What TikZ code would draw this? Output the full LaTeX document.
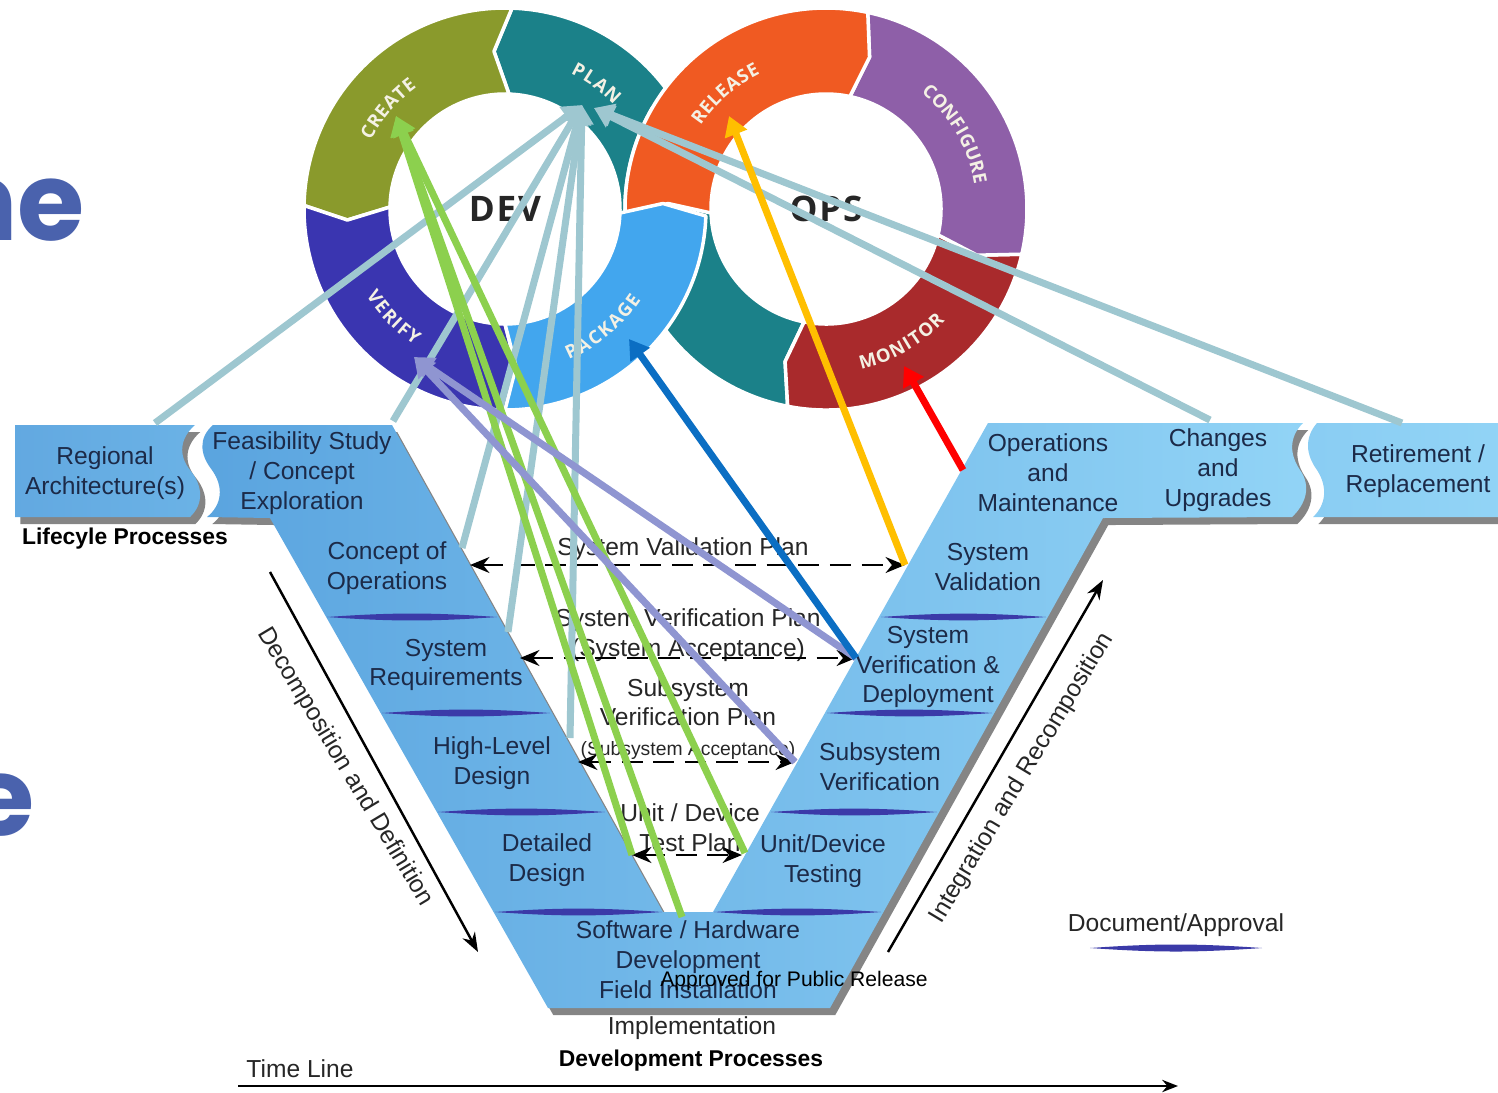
\documentclass[tikz,border=0pt]{standalone}
\usepackage{fontspec}
\setmainfont{Liberation Sans}
\newfontfamily\ringfont{Open Sans}
\newfontfamily\slidefont{Poppins}
\usetikzlibrary{arrows.meta,shadows}

\definecolor{createcol}{HTML}{8A9A2C}
\definecolor{plancol}{HTML}{1B8189}
\definecolor{verifycol}{HTML}{3A35B0}
\definecolor{packagecol}{HTML}{42A6EE}
\definecolor{releasecol}{HTML}{F05A22}
\definecolor{configcol}{HTML}{8E5FA8}
\definecolor{monitorcol}{HTML}{A92A2C}
\definecolor{ringwhite}{HTML}{F4F1E4}
\definecolor{vdark}{HTML}{5AA4DF}
\definecolor{vlight}{HTML}{92D4F6}
\definecolor{docblue}{HTML}{3B3AA8}
\definecolor{vnavy}{HTML}{1C2A48}
\definecolor{slideblue}{HTML}{4A62AD}
\definecolor{grayline}{HTML}{9EC7D0}
\definecolor{greenline}{HTML}{8CD04E}
\definecolor{lavline}{HTML}{8F95D1}
\definecolor{blueline}{HTML}{0B6EC3}
\definecolor{yellowline}{HTML}{FFBF00}
\definecolor{redline}{HTML}{FF0000}

\begin{document}
\begin{tikzpicture}[x=0.2mm, y=0.2mm,
    ringpiece/.style={draw=white, line width=2pt, line join=round},
    ringtxt/.style={text=ringwhite, inner sep=0pt, font=\ringfont\bfseries\fontsize{10.5}{10.5}\selectfont},
    hub/.style={text=black!85, font=\ringfont\bfseries\fontsize{20}{20}\selectfont},
    vblock/.style={drop shadow={shadow xshift=3pt, shadow yshift=-4pt, opacity=0.6, fill=black!80}},
    vtxt/.style={text=vnavy, align=center, font=\fontsize{14}{17}\selectfont},
    plantxt/.style={text=black!85, align=center, font=\fontsize{14}{17}\selectfont},
    docline/.style={fill=docblue},
    planarrow/.style={line width=1.6pt, dash pattern=on 12pt off 6pt, {Stealth[length=11pt,width=9pt]}-{Stealth[length=11pt,width=9pt]}},
    flowarrow/.style={line width=1.4pt, -{Stealth[length=11pt,width=8pt]}},
    trace/.style={line width=4pt, -{Triangle[length=11pt,width=13pt]}}
  ]
    \useasboundingbox (0,0) rectangle (1498,-1092);

    % Slide title letters cut off at the left
    \node[font=\slidefont\bfseries\fontsize{62}{62}\selectfont, text=slideblue, anchor=base east, inner sep=0pt] (ne) at (85,-240) {ne};
    \node[font=\slidefont\bfseries\fontsize{62}{62}\selectfont, text=slideblue, anchor=base east, inner sep=0pt] (e) at (35,-835) {e};

    % DEV ring, first part
    \begin{scope}[shift={(505,-209)}]
        \filldraw[ringpiece, fill=plancol] (94:158) -- (88:201) arc[start angle=88, end angle=-40, radius=201] -- (-40:115) arc[start angle=-40, end angle=88, radius=115] -- cycle;
    \end{scope}

    % OPS ring
    \begin{scope}[shift={(826,-209)}]
        \filldraw[ringpiece, fill=plancol] (259:201) arc[start angle=259, end angle=150, radius=201] -- (150:115) arc[start angle=150, end angle=259, radius=115] -- (255:158) -- cycle;
        \filldraw[ringpiece, fill=monitorcol] (-13:201) arc[start angle=-13, end angle=-101, radius=201] -- (-105:158) -- (-101:115) arc[start angle=-101, end angle=-13, radius=115] -- (-17:158) -- cycle;
        \filldraw[ringpiece, fill=configcol] (78:201) arc[start angle=78, end angle=-13, radius=201] -- (-17:158) -- (-13:115) arc[start angle=-13, end angle=78, radius=115] -- (74:158) -- cycle;
        \filldraw[ringpiece, fill=releasecol] (182:201) arc[start angle=182, end angle=78, radius=201] -- (74:158) -- (78:115) arc[start angle=78, end angle=182, radius=115] -- (178:158) -- cycle;

        % OPS labels
        \foreach \c/\a [count=\i] in {R/144,E/139.6,L/135.5,E/131.4,A/126.7,S/122.1,E/117.9}
            \node[ringtxt, rotate=\a-90] (rel\i) at (\a:157) {\c};
        \foreach \c/\a [count=\i] in {C/48.6,O/43.5,N/38.0,F/33.2,I/29.8,G/25.9,U/20.7,R/15.7,E/11.3}
            \node[ringtxt, rotate=\a-90] (cfg\i) at (\a:157) {\c};
        \foreach \c/\a [count=\i] in {M/285.4,O/291.4,N/296.9,I/301.0,T/304.6,O/309.5,R/314.5}
            \node[ringtxt, rotate=\a+90] (mon\i) at (\a:157) {\c};
        \node[hub] (ops) at (0,0) {O\kern1pt P\kern1pt S};
    \end{scope}

    % DEV ring, rest
    \begin{scope}[shift={(505,-209)}]
        \filldraw[ringpiece, fill=createcol] (88:201) arc[start angle=88, end angle=179, radius=201] -- (184:158) -- (179:115) arc[start angle=179, end angle=88, radius=115] -- (94:158) -- cycle;
        \filldraw[ringpiece, fill=verifycol] (179:201) arc[start angle=179, end angle=270, radius=201] -- (274:158) -- (270:115) arc[start angle=270, end angle=179, radius=115] -- (184:158) -- cycle;
        \filldraw[ringpiece, fill=packagecol] (270:201) arc[start angle=270, end angle=358, radius=201] -- (2:158) -- (358:115) arc[start angle=358, end angle=270, radius=115] -- (274:158) -- cycle;

        % DEV labels
        \foreach \c/\a [count=\i] in {C/150.7,R/146.0,E/141.6,A/136.9,T/132.2,E/127.9}
            \node[ringtxt, rotate=\a-90] (cre\i) at (\a:157) {\c};
        \foreach \c/\a [count=\i] in {P/62,L/57.2,A/52.2,N/46.6}
            \node[ringtxt, rotate=\a-90] (pla\i) at (\a:157) {\c};
        \foreach \c/\a [count=\i] in {V/214,E/218.5,R/223.0,I/226.6,F/230.1,Y/234.5}
            \node[ringtxt, rotate=\a+90] (ver\i) at (\a:157) {\c};
        \foreach \c/\a [count=\i] in {P/295,A/299.9,C/304.8,K/309.6,A/314.6,G/319.7,E/324.4}
            \node[ringtxt, rotate=\a+90] (pac\i) at (\a:157) {\c};
        \node[hub] (dev) at (0,0) {D\kern1pt E\kern1pt V};
    \end{scope}

    % Blocks of the V
    \path[vblock, left color=vdark!95, right color=vdark!70!vlight] (15,-425) -- (195,-425) .. controls (180,-438) and (178,-455) .. (190,-470) .. controls (204,-487) and (203,-505) .. (190,-517) -- (15,-517) -- cycle;
    \path[vblock, left color=vdark, right color=vlight] (213,-425) -- (392,-425) -- (663,-912) -- (713,-912) -- (988,-423) -- (1303,-423)
        .. controls (1288,-438) and (1290,-455) .. (1300,-470) .. controls (1312,-487) and (1305,-505) .. (1292,-517)
        -- (1103,-518) -- (830,-1008) -- (548,-1008) -- (270,-518) -- (207,-517)
        .. controls (222,-505) and (224,-487) .. (212,-470) .. controls (200,-455) and (198,-438) .. (213,-425) -- cycle;
    \path[vblock, left color=vlight!85!vdark, right color=vlight] (1317,-423) -- (1510,-423) -- (1510,-517) -- (1313,-517)
        .. controls (1326,-505) and (1328,-487) .. (1317,-470) .. controls (1306,-455) and (1304,-438) .. (1317,-423) -- cycle;

    % Document / approval stripes
    \fill[docline] (327,-617) to[bend left=4] (497,-617) to[bend left=4] (327,-617);
    \fill[docline] (382,-713) to[bend left=4] (550,-713) to[bend left=4] (382,-713);
    \fill[docline] (438,-812) to[bend left=4] (605,-812) to[bend left=4] (438,-812);
    \fill[docline] (495,-912) to[bend left=4] (662,-912) to[bend left=4] (495,-912);
    \fill[docline] (881,-617) to[bend left=4] (1046,-617) to[bend left=4] (881,-617);
    \fill[docline] (827,-713) to[bend left=4] (992,-713) to[bend left=4] (827,-713);
    \fill[docline] (771,-812) to[bend left=4] (937,-812) to[bend left=4] (771,-812);
    \fill[docline] (714,-912) to[bend left=4] (881,-912) to[bend left=4] (714,-912);
    \fill[docline] (1090,-948) to[bend left=4] (1262,-948) to[bend left=4] (1090,-948);

    % Phase texts
    \node[vtxt] (regional) at (105,-473) {Regional\\Architecture(s)};
    \node[vtxt] (feas) at (302,-473) {Feasibility Study\\/ Concept\\Exploration};
    \node[vtxt] (conops) at (387,-568) {Concept of\\Operations};
    \node[vtxt] (sysreq) at (446,-665) {System\\Requirements};
    \node[vtxt] (hld) at (492,-763) {High-Level\\Design};
    \node[vtxt] (dd) at (547,-860) {Detailed\\Design};
    \node[vtxt] (swhw) at (688,-960) {Software / Hardware\\Development\\Field Installation};
    \node[vtxt] (om) at (1048,-473) {Operations\\and\\Maintenance};
    \node[vtxt] (cu) at (1218,-470) {Changes\\and\\Upgrades};
    \node[vtxt] (rr) at (1418,-471) {Retirement /\\Replacement};
    \node[vtxt] (sysval) at (988,-567) {System\\Validation};
    \node[vtxt] (sysver) at (928,-667) {System\\Verification \&\\Deployment};
    \node[vtxt] (subver) at (880,-767) {Subsystem\\Verification};
    \node[vtxt] (unit) at (823,-861) {Unit/Device\\Testing};

    % Other labels
    \node[font=\bfseries\fontsize{13}{15}\selectfont] (lifecycle) at (125,-539) {Lifecyle Processes};
    \node[plantxt] (impl) at (692,-1028) {Implementation};
    \node[font=\bfseries\fontsize{13}{15}\selectfont] (devproc) at (691,-1061) {Development Processes};
    \node[plantxt] (timeline) at (300,-1069) {Time Line};
    \node[plantxt] (docapp) at (1176,-925) {Document/Approval};
    \node[plantxt, rotate=-59] (decomp) at (345,-767) {Decomposition and Definition};
    \node[plantxt, rotate=59] (integ) at (1022,-778) {Integration and Recomposition};

    % Plans between the arms
    \node[plantxt] (valplan) at (683,-549) {System Validation Plan};
    \node[plantxt] (verplan) at (688,-635) {System Verification Plan\\(System Acceptance)};
    \node[plantxt] (subplan) at (688,-719) {Subsystem\\Verification Plan\\{\fontsize{11}{13}\selectfont(Subsystem Acceptance)}};
    \node[plantxt] (unitplan) at (690,-828) {Unit / Device\\Test Plan};

    % End points on the arms
    \coordinate (valL) at (470,-565);
    \coordinate (valR) at (905,-565);
    \coordinate (verL) at (520,-658);
    \coordinate (verR) at (856,-658);
    \coordinate (subL) at (578,-762);
    \coordinate (subR) at (795,-762);
    \coordinate (unitL) at (632,-855);
    \coordinate (unitR) at (742,-855);

    \draw[planarrow] (valL) -- (valR);
    \draw[planarrow] (verL) -- (verR);
    \draw[planarrow] (subL) -- (subR);
    \draw[planarrow] (unitL) -- (unitR);

    % Side arrows and time line
    \coordinate (decA) at (270,-572);
    \coordinate (decB) at (478,-952);
    \coordinate (intA) at (888,-952);
    \coordinate (intB) at (1103,-580);
    \coordinate (tlA) at (238,-1086);
    \coordinate (tlB) at (1178,-1086);
    \draw[flowarrow] (decA) -- (decB);
    \draw[flowarrow] (intA) -- (intB);
    \draw[line width=1.2pt, -{Stealth[length=9pt,width=7pt]}] (tlA) -- (tlB);

    % Arrow tips in the rings
    \coordinate (plantip) at (582,-105);
    \coordinate (plantipR) at (594,-108);
    \coordinate (createtip) at (396,-116);
    \coordinate (verifytip) at (414,-357);
    \coordinate (packagetip) at (629,-339);
    \coordinate (releasetip) at (729,-116);
    \coordinate (monitortip) at (904,-366);

    % Start points on the V
    \coordinate (regtop) at (155,-423);
    \coordinate (feastop) at (393,-421);
    \coordinate (conopsR) at (462,-548);
    \coordinate (sysreqR) at (508,-632);
    \coordinate (hldR) at (570,-738);
    \coordinate (cutop) at (1210,-420);
    \coordinate (rrtop) at (1402,-423);
    \coordinate (swhwtop) at (682,-917);
    \coordinate (unitLt) at (745,-853);
    \coordinate (omL) at (963,-470);

    % Links from the V to the DevOps loop
    \draw[trace, grayline] (regtop) -- (plantip);
    \draw[trace, grayline] (feastop) -- (plantip);
    \draw[trace, grayline] (conopsR) -- (plantip);
    \draw[trace, grayline] (sysreqR) -- (plantip);
    \draw[trace, grayline] (hldR) -- (plantip);
    \draw[trace, grayline] (cutop) -- (plantipR);
    \draw[trace, grayline] (rrtop) -- (plantipR);
    \draw[trace, greenline] (unitL) -- (createtip);
    \draw[trace, greenline] (swhwtop) -- (createtip);
    \draw[trace, greenline] (unitLt) -- (createtip);
    \draw[trace, lavline] (verR) -- (verifytip);
    \draw[trace, lavline] (subR) -- (verifytip);
    \draw[trace, blueline] (verR) -- (packagetip);
    \draw[trace, yellowline] (valR) -- (releasetip);
    \draw[trace, redline] (omL) -- (monitortip);

    % Release note
    \node[font=\fontsize{12}{14}\selectfont] (approved) at (794,-981) {Approved for Public Release};
\end{tikzpicture}
\end{document}
